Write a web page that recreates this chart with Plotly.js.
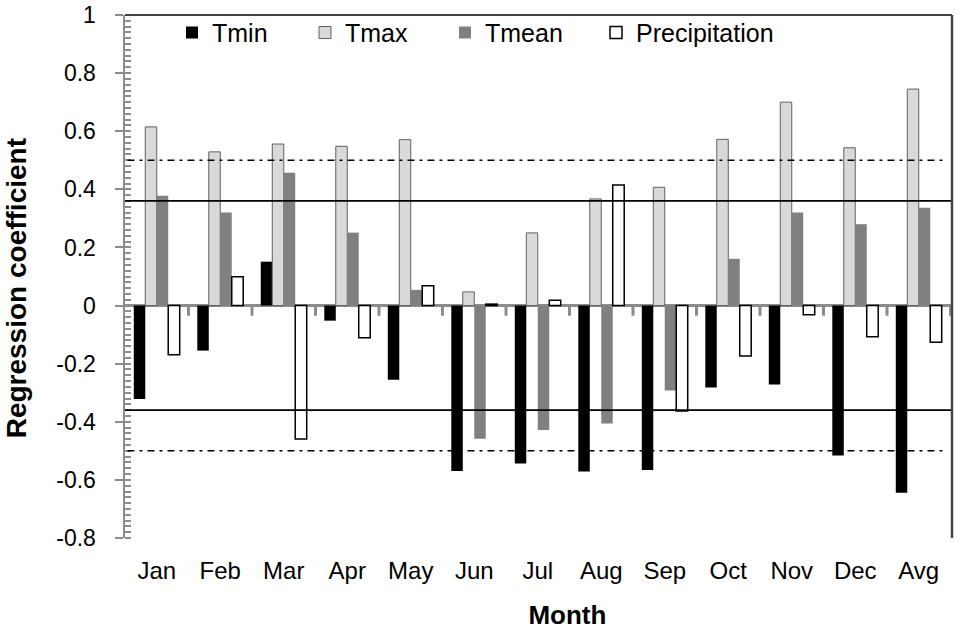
<!DOCTYPE html>
<html>
<head>
<meta charset="utf-8">
<script src="https://cdn.plot.ly/plotly-3.0.1.min.js"></script>
<style>html,body{margin:0;padding:0;background:#fff;}#chart{width:960px;height:634px;}</style>
</head>
<body>
<div id="chart"></div>
<script>
const months = ["Jan","Feb","Mar","Apr","May","Jun","Jul","Aug","Sep","Oct","Nov","Dec","Avg"];
const tmin   = [-0.322, -0.155, 0.151, -0.052, -0.255, -0.569, -0.544, -0.571, -0.566, -0.282, -0.272, -0.516, -0.644];
const tmax   = [0.615, 0.529, 0.556, 0.548, 0.571, 0.047, 0.25, 0.367, 0.407, 0.572, 0.700, 0.543, 0.745];
const tmean  = [0.378, 0.32, 0.457, 0.251, 0.054, -0.458, -0.428, -0.406, -0.292, 0.161, 0.32, 0.28, 0.337];
const precip = [-0.169, 0.099, -0.459, -0.111, 0.068, 0.005, 0.018, 0.415, -0.363, -0.174, -0.032, -0.107, -0.126];
const yTickVals = [-0.8, -0.6, -0.4, -0.2, 0, 0.2, 0.4, 0.6, 0.8, 1];
const yTickText = ["-0.8", "-0.6", "-0.4", "-0.2", "0", "0.2", "0.4", "0.6", "0.8", "1"];
const solidLevel = 0.36;
const dashLevel = 0.5;

const FONT = "Liberation Sans, Arial, sans-serif";
const NB = "\u00a0";

const traces = [
  {type:"bar", name:"Tmin", x:months, y:tmin, legend:"legend",
   marker:{color:"#000000", line:{color:"#000000", width:0}}},
  {type:"bar", name:"Tmax", x:months, y:tmax, legend:"legend2",
   marker:{color:"#d9d9d9", line:{color:"#606060", width:1}}},
  {type:"bar", name:"Tmean", x:months, y:tmean, legend:"legend3",
   marker:{color:"#808080", line:{color:"#808080", width:0}}},
  {type:"bar", name:"Precipitation", x:months, y:precip, legend:"legend4",
   marker:{color:"#ffffff", line:{color:"#000000", width:1.5}}}
];

const shapes = [];
[solidLevel, -solidLevel].forEach(v => shapes.push({type:"line", xref:"paper", yref:"y", x0:0, x1:1, y0:v, y1:v, line:{color:"#000", width:1.8}}));
[dashLevel, -dashLevel].forEach(v => shapes.push({type:"line", xref:"paper", yref:"y", x0:0.003, x1:0.994, y0:v, y1:v, line:{color:"#000", width:1.5, dash:"7px,5px,3px,5px"}}));
for (let i = 1; i <= months.length; i++) {
  shapes.push({type:"line", xref:"x", yref:"y", x0:i-0.5, x1:i-0.5, y0:0, y1:-0.035, line:{color:"#8c8c8c", width:3}});
}
shapes.push({type:"line", xref:"paper", yref:"paper", x0:0, x1:1, y0:1, y1:1, line:{color:"#444", width:2}});
shapes.push({type:"line", xref:"paper", yref:"paper", x0:1, x1:1, y0:0, y1:1, line:{color:"#444", width:2.5}});

const L = 125, R = 8, W = 960 - L - R;
function lx(px){ return (px - L) / W; }
const legBase = {orientation:"h", yanchor:"top", y:1.01, xanchor:"left", bgcolor:"rgba(0,0,0,0)",
  font:{family:FONT, size:25, color:"#000"}, borderwidth:0};

const layout = {
  width:960, height:634,
  margin:{l:L, r:R, t:15, b:96, pad:0},
  paper_bgcolor:"#fff", plot_bgcolor:"#fff",
  font:{family:FONT, color:"#000"},
  barmode:"group", bargap:0.277, bargroupgap:0,
  showlegend:true,
  legend: Object.assign({}, legBase, {x:lx(172)}),
  legend2: Object.assign({}, legBase, {x:lx(305)}),
  legend3: Object.assign({}, legBase, {x:lx(445)}),
  legend4: Object.assign({}, legBase, {x:lx(596)}),
  xaxis:{
    type:"category", showgrid:false, showline:false, zeroline:false, ticks:"",
    tickfont:{family:FONT, size:24, color:"#000"}, ticklabelstandoff:16,
    title:{text:"<b>" + NB.repeat(8) + "Month</b>", font:{family:FONT, size:26, color:"#000"}, standoff:22},
    fixedrange:true
  },
  yaxis:{
    range:[-0.8, 1], showgrid:false,
    showline:true, linecolor:"#8c8c8c", linewidth:2.5,
    zeroline:true, zerolinecolor:"#8c8c8c", zerolinewidth:2.5,
    tickmode:"array", tickvals:yTickVals, ticktext:yTickText,
    ticks:"outside", ticklen:8, tickwidth:2, tickcolor:"#8c8c8c",
    minor:{dtick:0.02, ticks:"inside", ticklen:6, tickwidth:2, tickcolor:"#8c8c8c"},
    tickfont:{family:FONT, size:23, color:"#000"}, ticklabelstandoff:14,
    title:{text:"<b>Regression coefficient" + NB.repeat(3) + "</b>", font:{family:FONT, size:28, color:"#000"}, standoff:22},
    fixedrange:true
  },
  shapes:shapes
};

Plotly.newPlot("chart", traces, layout, {displayModeBar:false, staticPlot:true});
</script>
</body>
</html>
